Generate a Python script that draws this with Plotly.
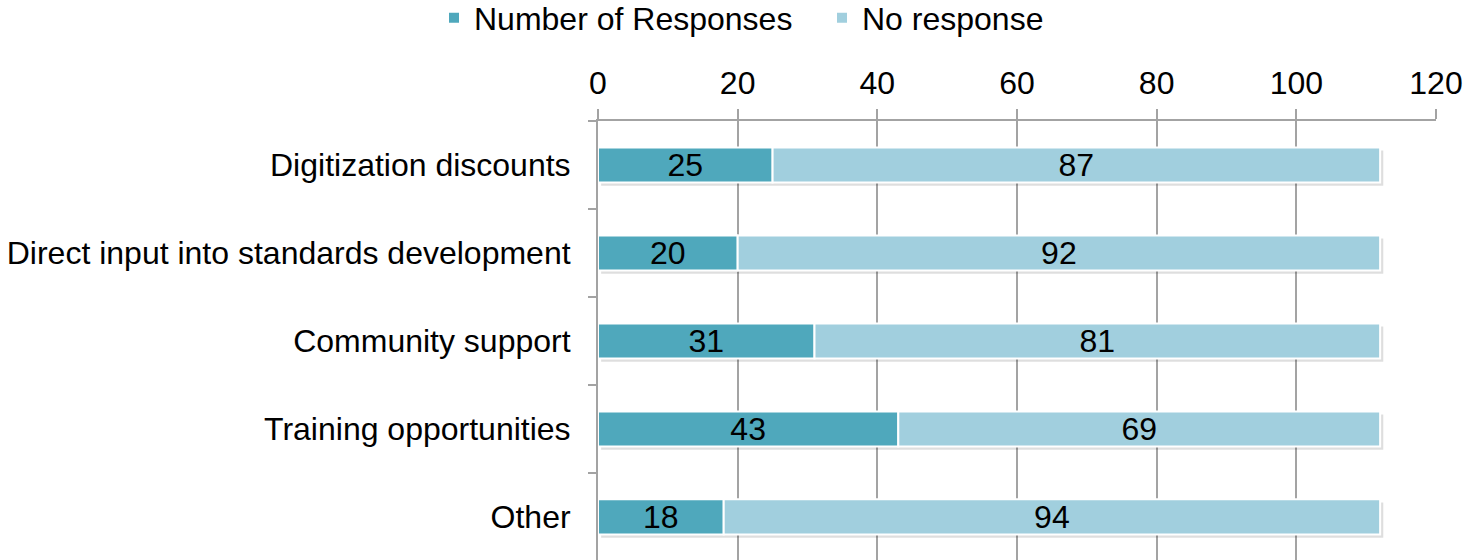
import plotly.graph_objects as go

categories = ["Digitization discounts", "Direct input into standards development",
              "Community support", "Training opportunities", "Other"]
responses = [25, 20, 31, 43, 18]
no_response = [87, 92, 81, 69, 94]
x_ticks = [0, 20, 40, 60, 80, 100, 120]

FONT = "Liberation Sans, Arial, sans-serif"
GRID = "#A3A3A3"
BAR_W = 0.4

totals = [a + b for a, b in zip(responses, no_response)]

fig = go.Figure()
# soft drop shadow under each bar
fig.add_trace(go.Bar(
    y=categories, x=totals, orientation="h", base=0.45, showlegend=False,
    hoverinfo="skip", marker=dict(color="rgba(0,0,0,0.13)", line=dict(width=0)),
    width=BAR_W, offset=-BAR_W / 2 + 0.035,
))
fig.add_trace(go.Bar(
    y=categories, x=responses, orientation="h", name="Number of Responses",
    marker=dict(color="#4FA8BC", line=dict(color="white", width=2)),
    text=responses, textposition="inside", insidetextanchor="middle", textangle=0,
    textfont=dict(size=32, color="black", family=FONT), width=BAR_W, offset=-BAR_W / 2,
))
fig.add_trace(go.Bar(
    y=categories, x=no_response, base=responses, orientation="h", name="No response",
    marker=dict(color="#A1CFDE", line=dict(color="white", width=2)),
    text=no_response, textposition="inside", insidetextanchor="middle", textangle=0,
    textfont=dict(size=32, color="black", family=FONT), width=BAR_W, offset=-BAR_W / 2,
))

fig.update_layout(
    barmode="overlay",
    width=1464, height=560,
    margin=dict(l=598, r=28, t=121, b=0, autoexpand=False),
    plot_bgcolor="white", paper_bgcolor="white",
    font=dict(family=FONT, size=32, color="black"),
    uniformtext=dict(mode="show", minsize=32),
    legend=dict(orientation="h", xref="container", x=434 / 1464, xanchor="left",
                yref="paper", y=1 + (121 - 18) / 439, yanchor="middle",
                font=dict(size=32), itemwidth=30, traceorder="normal",
                entrywidth=343, bgcolor="rgba(0,0,0,0)"),
    xaxis=dict(side="top", range=[0, 120], tickvals=x_ticks, showgrid=True,
               gridcolor=GRID, gridwidth=2, showline=True, linecolor=GRID, linewidth=2,
               ticks="outside", ticklen=10, tickwidth=2, tickcolor=GRID,
               tickfont=dict(size=32), zeroline=False, automargin=False,
               ticklabelstandoff=2),
    yaxis=dict(type="category", categoryorder="array", categoryarray=categories,
               range=[4.489, -0.5], showline=True, linecolor=GRID, linewidth=2,
               ticks="outside", ticklen=8, tickwidth=2, tickcolor=GRID,
               tickson="boundaries", showgrid=False, tickfont=dict(size=32),
               ticklabelstandoff=19, automargin=False),
)

fig.write_html("out.html", config={"displayModeBar": False},
               post_script="document.body.style.margin='0';document.body.style.overflow='hidden';")
